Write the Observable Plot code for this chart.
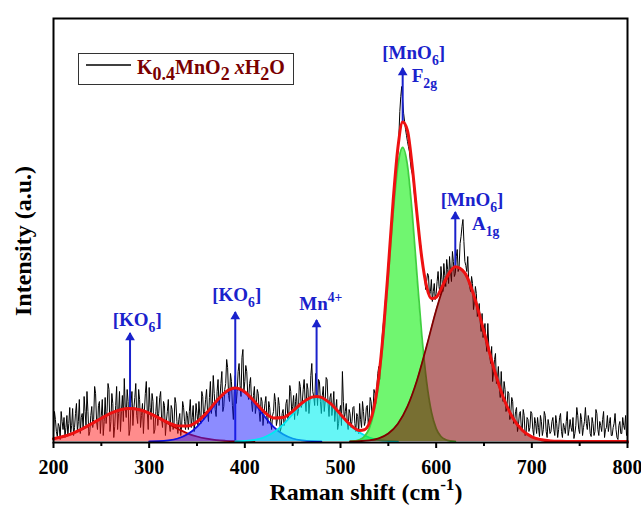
<!DOCTYPE html>
<html><head><meta charset="utf-8">
<script src="https://cdn.jsdelivr.net/npm/d3@7"></script>
<script src="https://cdn.jsdelivr.net/npm/@observablehq/plot@0.6"></script>
<style>body{margin:0;background:#fff}</style>
</head><body><div id="chart"></div>
<script>
// ---- measured spectrum (Raman shift, cm-1) and intensity (a.u.) ----
const spectrumShift = [
200,201,202,203,204,205,206,207,208,209,210,211,212,213,214,215,216,217,218,219,
220,221,222,223,224,225,226,227,228,229,230,231,232,233,234,235,236,237,238,239,
240,241,242,243,244,245,246,247,248,249,250,251,252,253,254,255,256,257,258,259,
260,261,262,263,264,265,266,267,268,269,270,271,272,273,274,275,276,277,278,279,
280,281,282,283,284,285,286,287,288,289,290,291,292,293,294,295,296,297,298,299,
300,301,302,303,304,305,306,307,308,309,310,311,312,313,314,315,316,317,318,319,
320,321,322,323,324,325,326,327,328,329,330,331,332,333,334,335,336,337,338,339,
340,341,342,343,344,345,346,347,348,349,350,351,352,353,354,355,356,357,358,359,
360,361,362,363,364,365,366,367,368,369,370,371,372,373,374,375,376,377,378,379,
380,381,382,383,384,385,386,387,388,389,390,391,392,393,394,395,396,397,398,399,
400,401,402,403,404,405,406,407,408,409,410,411,412,413,414,415,416,417,418,419,
420,421,422,423,424,425,426,427,428,429,430,431,432,433,434,435,436,437,438,439,
440,441,442,443,444,445,446,447,448,449,450,451,452,453,454,455,456,457,458,459,
460,461,462,463,464,465,466,467,468,469,470,471,472,473,474,475,476,477,478,479,
480,481,482,483,484,485,486,487,488,489,490,491,492,493,494,495,496,497,498,499,
500,501,502,503,504,505,506,507,508,509,510,511,512,513,514,515,516,517,518,519,
520,521,522,523,524,525,526,527,528,529,530,531,532,533,534,535,536,537,538,539,
540,541,542,543,544,545,546,547,548,549,550,551,552,553,554,555,556,557,558,559,
560,561,562,563,564,565,566,567,568,569,570,571,572,573,574,575,576,577,578,579,
580,581,582,583,584,585,586,587,588,589,590,591,592,593,594,595,596,597,598,599,
600,601,602,603,604,605,606,607,608,609,610,611,612,613,614,615,616,617,618,619,
620,621,622,623,624,625,626,627,628,629,630,631,632,633,634,635,636,637,638,639,
640,641,642,643,644,645,646,647,648,649,650,651,652,653,654,655,656,657,658,659,
660,661,662,663,664,665,666,667,668,669,670,671,672,673,674,675,676,677,678,679,
680,681,682,683,684,685,686,687,688,689,690,691,692,693,694,695,696,697,698,699,
700,701,702,703,704,705,706,707,708,709,710,711,712,713,714,715,716,717,718,719,
720,721,722,723,724,725,726,727,728,729,730,731,732,733,734,735,736,737,738,739,
740,741,742,743,744,745,746,747,748,749,750,751,752,753,754,755,756,757,758,759,
760,761,762,763,764,765,766,767,768,769,770,771,772,773,774,775,776,777,778,779,
780,781,782,783,784,785,786,787,788,789,790,791,792,793,794,795,796,797,798,799,
800];
const spectrumIntensity = [
8,30,22,10,5,18,15,2,30,20, 12,24,4,14,26,6,18,34,9,16,
33,6,14,28,38,10,20,42,8,24, 28,12,45,30,16,50,30,6,10,26,
35,14,22,55,48,20,12,36,40,8, 26,42,6,20,44,18,30,58,52,10,
20,48,38,4,15,36,55,12,28,50, 10,30,46,20,63,34,24,52,40,6,
12,38,50,16,33,44,58,26,18,52, 42,14,26,38,8,30,48,60,30,12,
54,34,22,48,40,8,12,30,45,16, 28,44,50,22,14,40,36,6,20,30,
42,18,10,36,32,12,18,44,38,20, 8,22,28,6,16,40,34,20,12,30,
26,12,30,42,14,24,36,10,20,38, 28,16,40,26,18,50,45,22,30,42,
52,30,20,44,60,28,38,66,48,32, 25,50,62,36,44,58,70,30,35,52,
58,82,74,46,40,68,60,36,22,50, 66,38,50,70,78,56,45,84,92,50,
60,76,70,48,42,58,64,40,30,46, 55,28,36,52,48,30,20,44,40,16,
28,38,45,24,18,40,34,20,12,26, 30,48,40,16,22,44,36,10,14,28,
32,16,20,38,42,22,28,56,50,30, 35,46,22,40,48,26,30,60,55,34,
38,52,62,42,30,58,52,28,40,66, 78,50,45,36,68,54,36,62,60,40,
28,46,55,30,40,64,62,38,25,44, 48,26,35,50,20,32,42,12,18,30,
36,16,70,40,22,30,38,20,12,32, 28,14,20,34,35,18,10,28,25,8,
38,22,14,40,30,16,20,34,36,18, 24,44,40,26,30,52,48,38,55,68,
75,62,80,96,110,120,128,142,150,165, 178,190,200,212,218,232,245,255,262,280,
290,305,330,345,355,340,328,320,312,306, 300,295,290,280,272,268,262,250,240,236,
228,218,210,200,195,185,178,170,165,152, 160,168,166,145,150,162,140,150,158,142,
148,160,170,155,148,175,162,150,178,166, 155,182,172,158,185,170,160,190,180,165,
168,185,192,170,175,198,205,215,222,200, 180,176,170,185,160,155,150,165,158,132,
140,155,148,125,130,138,120,110,128,104, 110,118,100,90,118,96,85,78,95,60,
70,82,88,58,62,75,55,44,70,48, 40,60,52,30,35,50,48,22,28,44,
40,18,20,30,34,10,16,28,30,14, 12,32,26,6,8,24,22,10,14,30,
28,12,6,24,18,8,24,14,5,26, 20,6,12,30,26,10,4,22,16,8,
10,20,24,12,6,26,18,4,12,24, 28,10,4,18,14,8,20,30,6,12,
22,14,10,24,3,8,16,34,26,12, 8,28,22,6,14,20,34,18,12,26,
20,8,5,24,18,6,10,32,28,12, 6,20,16,10,22,30,4,12,14,26,
10,18,24,6,6,14,18,28,12,4, 2,16,20,8,8,24,16,12,26,6,
10];

// ---- cumulative fit (envelope) ----
const fitShift = [200,210,220,230,240,250,260,270,280,290,300,310,320,330,340,350,360,370,380,390,400,410,420,430,440,450,460,470,475,480,490,500,510,520,525,530,535,540,545,550,555,560,565,570,575,580,585,590,595,600,605,610,615,620,630,640,650,660,670,680,690,700,710,720,730,740,750,760,770,780,790,800];
const fitIntensity = [2.8,5.0,8.2,12.6,17.8,23.3,28.3,31.8,33.0,31.8,28.4,23.6,18.9,15.6,15.4,19.7,28.6,39.9,49.6,53.4,49.5,40.0,29.8,23.6,24.1,30.3,38.7,44.4,45.1,44.2,37.6,27.3,17.1,11.0,11.7,18.0,34.0,64.4,112.1,174.1,240.2,293.7,319.4,310.9,274.9,226.9,183.5,154.9,143.1,144.2,152.4,162.3,170.5,174.7,168.5,144.3,109.8,74.2,44.5,23.7,11.2,4.7,1.8,0.6,0.2,0,0,0,0,0,0,0];

// ---- fitted component peaks ----
const peakKO6aShift = [200,210,220,230,240,250,260,270,280,290,300,310,320,330,340,350,360,370,380,390,400,410];
const peakKO6aValue = [2.8,5.0,8.2,12.6,17.8,23.3,28.3,31.8,33.0,31.8,28.3,23.3,17.8,12.6,8.2,5.0,2.8,1.4,0.7,0.3,0.1,0];
const peakKO6bShift = [300,310,320,330,340,350,360,370,380,390,400,410,420,430,440,450,460,470,480];
const peakKO6bValue = [0.1,0.3,1.1,3.0,7.2,14.7,25.8,38.5,48.9,53,48.9,38.5,25.8,14.7,7.2,3.0,1.1,0.3,0.1];
const peakMnShift = [390,400,410,420,430,440,450,460,470,475,480,490,500,510,520,530,540,550,560];
const peakMnValue = [0.1,0.5,1.5,4.0,8.9,16.9,27.3,37.6,44.1,45,44.1,37.6,27.3,16.9,8.9,4.0,1.5,0.5,0.1];
const peakF2gShift = [510,515,520,525,530,535,540,545,550,555,560,565,570,575,580,585,590,595,600,605,610,615,620];
const peakF2gValue = [0.1,0.5,1.7,5.0,12.9,29.6,59.7,106.0,165.6,227.8,275.8,294,275.8,227.8,165.6,106.0,59.7,29.6,12.9,5.0,1.7,0.5,0.1];
const peakA1gShift = [510,520,530,540,550,560,570,580,590,600,610,620,630,640,650,660,670,680,690,700,710,720,730];
const peakA1gValue = [0.1,0.4,1.1,3.2,8.0,17.8,35.1,61.3,95.2,131.3,160.6,174.6,168.5,144.3,109.8,74.2,44.5,23.7,11.2,4.7,1.8,0.6,0.2];

// ---- annotations ----
const annShift = [280, 390, 475, 565, 620];
const arrowBase = [33, 0, 45, 319, 175];
const arrowTip = [108, 129, 121, 373, 229];
const xTicks = [200, 300, 400, 500, 600, 700, 800];
const xMinorTicks = [250, 350, 450, 550, 650, 750];

// ---- styles ----
const peakStyles = [
  {fill: "#ff1a1a", opacity: 0.5, stroke: "#c00000"},
  {fill: "#1a1aff", opacity: 0.5, stroke: "#1010e0"},
  {fill: "#00f0f0", opacity: 0.6, stroke: "#00e8f0"},
  {fill: "#10f010", opacity: 0.6, stroke: "#40d040"},
  {fill: "#800000", opacity: 0.55, stroke: "#800000"}
];
const BLUE = "#1a22cc";
const FONT = "Liberation Serif, Times New Roman, serif";

const zipXY = (xs, ys) => xs.map((x, i) => ({x, y: ys[i]}));
const spectrum = zipXY(spectrumShift, spectrumIntensity);
const fit = zipXY(fitShift, fitIntensity);
const peaks = [
  zipXY(peakKO6aShift, peakKO6aValue),
  zipXY(peakKO6bShift, peakKO6bValue),
  zipXY(peakMnShift, peakMnValue),
  zipXY(peakF2gShift, peakF2gValue),
  zipXY(peakA1gShift, peakA1gValue)
];
const arrows = annShift.map((x, i) => ({x, y1: arrowBase[i], y2: arrowTip[i]}));

const marks = [
  Plot.lineY(spectrum, {x: "x", y: "y", stroke: "black", strokeWidth: 1}),
  Plot.ruleX(arrows, {x: "x", y1: "y1", y2: "y2", stroke: BLUE, strokeWidth: 2}),
];
peaks.forEach((p, i) => {
  const s = peakStyles[i];
  marks.push(Plot.areaY(p, {x: "x", y: "y", fill: s.fill, fillOpacity: s.opacity, curve: "monotone-x"}));
  marks.push(Plot.lineY(p, {x: "x", y: "y", stroke: s.stroke, strokeWidth: 1.8, curve: "monotone-x"}));
});
marks.push(
  Plot.lineY(fit, {x: "x", y: "y", stroke: "#ee1111", strokeWidth: 3, curve: "monotone-x"}),
  Plot.dot(arrows, {x: "x", y: "y2", symbol: "triangle", r: 3.6, fill: BLUE, stroke: "none", dy: 4}),
  Plot.axisX(xTicks, {tickSize: 6, tickPadding: 11, strokeWidth: 2, fontSize: 20, fontWeight: "bold", label: null}),
  Plot.axisX(xMinorTicks, {tickSize: 4, strokeWidth: 2, tickFormat: () => "", label: null}),
  Plot.frame({stroke: "black", strokeWidth: 2})
);

const plot = Plot.plot({
  width: 641, height: 510,
  marginLeft: 53, marginRight: 14, marginTop: 18, marginBottom: 68,
  style: {fontFamily: FONT, fontWeight: "bold", fontSize: "20px", background: "#fff", color: "black"},
  x: {domain: [200, 800]},
  y: {domain: [-1, 423], axis: null},
  marks
});
document.getElementById("chart").appendChild(plot);

// ---- rich text (sub/superscripts) placed through the plot's scales ----
const sx = plot.scale("x"), sy = plot.scale("y");
const svg = d3.select(plot);
function rich(x, y, anchor, parts, size, color, rotate, scriptSize) {
  const t = svg.append("text")
    .attr("text-anchor", anchor)
    .attr("font-family", FONT).attr("font-weight", "bold")
    .attr("font-size", size).attr("fill", color);
  if (rotate) t.attr("transform", `translate(${x},${y}) rotate(${rotate})`);
  else t.attr("x", x).attr("y", y);
  let shift = 0;
  parts.forEach(p => {
    const [txt, kind, italic] = p;
    const target = kind === "sub" ? size * 0.32 : kind === "sup" ? -size * 0.4 : 0;
    const ts = t.append("tspan").text(txt).attr("dy", target - shift);
    shift = target;
    if (kind) ts.attr("font-size", scriptSize || size * 0.72);
    if (italic) ts.attr("font-style", "italic");
  });
  return t;
}
const X = v => sx.apply(v), Y = v => sy.apply(v);
// peak labels
rich(X(288), Y(115), "middle", [["[KO"], ["6", "sub"], ["]"]], 19, BLUE);
rich(X(392), Y(140), "middle", [["[KO"], ["6", "sub"], ["]"]], 19, BLUE);
rich(X(480), Y(131), "middle", [["Mn"], ["4+", "sup"]], 19, BLUE);
rich(X(577), Y(382), "middle", [["[MnO"], ["6", "sub"], ["]"]], 19, BLUE);
rich(X(575), Y(359), "start", [["F"], ["2g", "sub"]], 19, BLUE);
rich(X(638), Y(235), "middle", [["[MnO"], ["6", "sub"], ["]"]], 19, BLUE);
rich(X(638), Y(211), "start", [["A"], ["1g", "sub"]], 19, BLUE);

// axis titles
rich(366, 500, "middle", [["Raman shift (cm"], ["-1", "sup"], [")"]], 24, "black");
rich(31, 241, "middle", [["Intensity (a.u.)"]], 24, "black", -90);

// legend
svg.append("rect").attr("x", 78.5).attr("y", 53.5).attr("width", 215).attr("height", 31)
  .attr("fill", "white").attr("stroke", "#333").attr("stroke-width", 1);
svg.append("line").attr("x1", 86).attr("x2", 131).attr("y1", 65).attr("y2", 65)
  .attr("stroke", "black").attr("stroke-width", 1.5);
rich(137, 74, "start", [["K"], ["0.4", "sub"], ["MnO"], ["2", "sub"], [" "], ["x", null, true], ["H"], ["2", "sub"], ["O"]], 20, "#7a0000", 0, 18);
</script>
</body></html>
